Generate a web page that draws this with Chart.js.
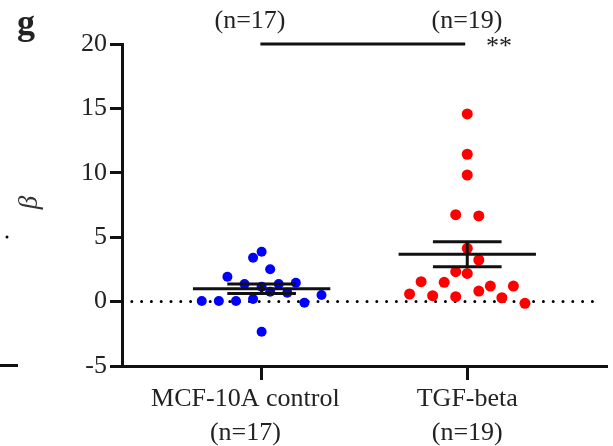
<!DOCTYPE html>
<html>
<head>
<meta charset="utf-8">
<script src="https://cdn.jsdelivr.net/npm/chart.js@4"></script>
<style>
  body { margin: 0; background: #fff; }
  canvas { display: block; }
</style>
</head>
<body>
<canvas id="chart" width="613" height="446"></canvas>
<script>
const groupNames = ["MCF-10A control", "TGF-beta"];
const groupCounts = ["(n=17)", "(n=19)"];

// beta values
const controlValues = [3.87, 3.41, 2.51, 1.93, 1.37, 1.37, 1.47, 1.16, 0.77, 0.69, 0.51, 0.05, 0.05, 0.05, 0.2, -0.09, -2.34];
const tgfValues = [14.57, 11.44, 9.83, 6.75, 6.65, 4.14, 3.23, 2.32, 2.19, 1.55, 1.5, 1.21, 1.21, 0.59, 0.46, 0.82, 0.38, 0.3, -0.13];

// side-by-side slot of each dot (beeswarm layout)
const controlSlots = [0, -1, 1, -4, -2, 2, 4, 0, 1, 3, 7, -7, -5, -3, -1, 5, 0];
const tgfSlots = [0, 0, 0, -1, 1, 0, 1, -1, 0, -4, -2, 2, 4, -5, -3, 1, -1, 3, 5];

const groupMeans = [1.0, 3.67];
const groupSems = [0.37, 0.97];

const yTicks = { min: -5, max: 20, step: 5 };
const significance = "**";

const SERIF = "'Liberation Serif', 'Times New Roman', serif";
const INK = "#111";

function dots(values, slots, center, step) {
  return values.map((v, i) => ({ x: center + slots[i] * step, y: v }));
}

function meanSem(center, mean, sem) {
  return [
    [{ x: center - 0.334, y: mean }, { x: center + 0.334, y: mean }],
    [{ x: center - 0.167, y: mean + sem }, { x: center + 0.167, y: mean + sem }],
    [{ x: center - 0.167, y: mean - sem }, { x: center + 0.167, y: mean - sem }],
    [{ x: center, y: mean - sem }, { x: center, y: mean + sem }],
  ];
}

const lineSet = (pts, extra) => Object.assign({
  data: pts, showLine: true, pointRadius: 0, borderColor: INK, borderWidth: 3, order: 0,
}, extra || {});

const datasets = [
  {
    data: dots(controlValues, controlSlots, 1, 0.0416),
    backgroundColor: "#0000ff", borderWidth: 0, pointRadius: 5, order: 1,
  },
  {
    data: dots(tgfValues, tgfSlots, 2, 0.0561),
    backgroundColor: "#ff0000", borderWidth: 0, pointRadius: 5.5, order: 1,
  },
  lineSet([{ x: 0.321, y: 0 }, { x: 2.634, y: 0 }], {
    borderDash: [0, 9.8], borderCapStyle: "round", borderColor: "#000", order: 2,
  }),
  lineSet([{ x: 0.994, y: 20 }, { x: 1.99, y: 20 }], { clip: false, order: 3 }),
];
groupMeans.forEach((m, i) => {
  meanSem(i + 1, m, groupSems[i]).forEach(seg => datasets.push(lineSet(seg)));
});

const annotations = {
  id: "annotations",
  afterDraw(chart) {
    const ctx = chart.ctx;
    ctx.save();
    ctx.fillStyle = "#222";
    ctx.font = "bold 36px " + SERIF;
    ctx.textAlign = "left";
    ctx.textBaseline = "alphabetic";
    ctx.fillText("g", 17, 34);

    ctx.font = "26px " + SERIF;
    ctx.textAlign = "center";
    ctx.textBaseline = "middle";
    ctx.fillText(groupCounts[0], 250, 21);
    ctx.fillText(groupCounts[1], 467, 21);

    ctx.textBaseline = "alphabetic";
    ctx.fillText(significance, 499, 54);

    ctx.save();
    ctx.translate(30, 202.5);
    ctx.rotate(-Math.PI / 2);
    ctx.font = "italic 27px " + SERIF;
    ctx.fillStyle = "#333";
    ctx.textBaseline = "middle";
    ctx.fillText("\u03b2", 0, 0);
    ctx.restore();

    ctx.fillStyle = "#000";
    ctx.beginPath();
    ctx.arc(7, 237, 1.5, 0, Math.PI * 2);
    ctx.fill();
    ctx.strokeStyle = INK;
    ctx.lineWidth = 3;
    ctx.beginPath();
    ctx.moveTo(0, 365.5);
    ctx.lineTo(18, 365.5);
    ctx.stroke();
    ctx.restore();
  },
};

// the first group's label sits a little left of its tick in the original
const labelPad = ["     ", ""];

new Chart(document.getElementById("chart").getContext("2d"), {
  type: "scatter",
  data: { datasets: datasets },
  options: {
    responsive: false,
    animation: false,
    layout: { padding: { top: 44, right: 3, left: 0, bottom: 0 } },
    plugins: { legend: { display: false }, tooltip: { enabled: false } },
    scales: {
      x: {
        type: "linear",
        min: 0.321,
        max: 2.682,
        afterBuildTicks: (s) => { s.ticks = groupNames.map((_, i) => ({ value: i + 1 })); },
        afterFit: (s) => { s.height = 80; },
        ticks: {
          autoSkip: false,
          maxRotation: 0,
          padding: 2,
          color: "#222",
          font: { family: SERIF, size: 26, lineHeight: 1.3 },
          callback: (v, i) => [groupNames[i] + labelPad[i], groupCounts[i] + labelPad[i]],
        },
        grid: { drawOnChartArea: false, tickLength: 14, tickWidth: 3, tickColor: INK },
        border: { color: INK, width: 3 },
      },
      y: {
        min: yTicks.min,
        max: yTicks.max,
        afterFit: (s) => { s.width = 122; },
        ticks: {
          stepSize: yTicks.step,
          padding: 3,
          color: "#222",
          font: { family: SERIF, size: 26 },
        },
        grid: { drawOnChartArea: false, tickLength: 12, tickWidth: 3, tickColor: INK },
        border: { color: INK, width: 3 },
      },
    },
  },
  plugins: [annotations],
});
</script>
</body>
</html>
